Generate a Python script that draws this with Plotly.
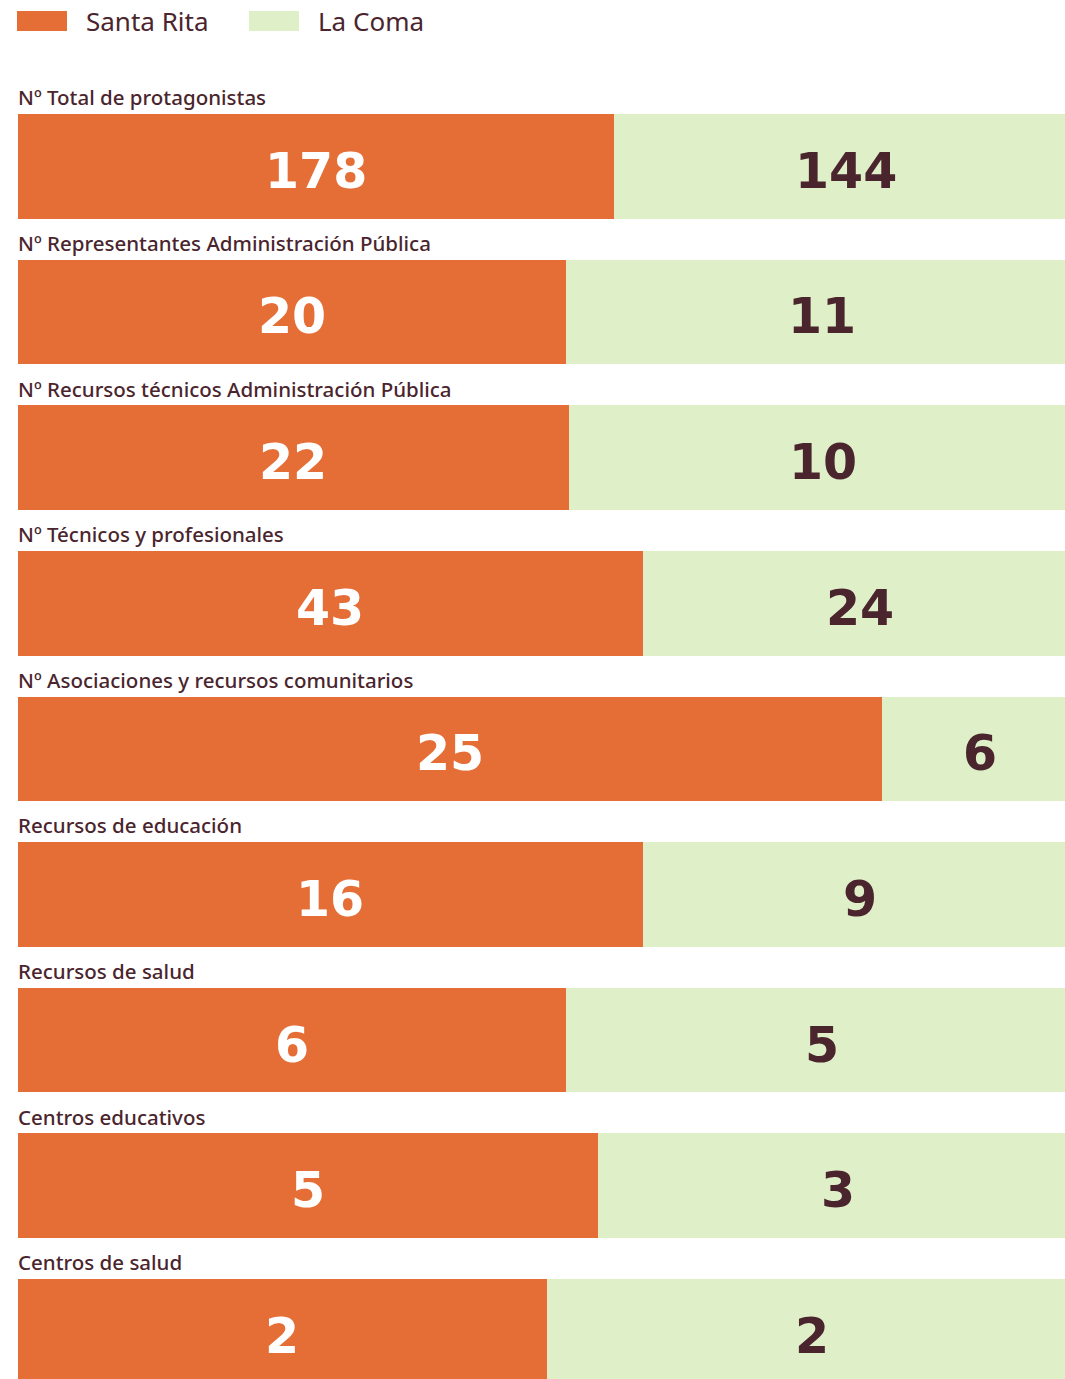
import plotly.graph_objects as go

# ---------------- data ----------------
categories = [
    "Nº Total de protagonistas",
    "Nº Representantes Administración Pública",
    "Nº Recursos técnicos Administración Pública",
    "Nº Técnicos y profesionales",
    "Nº Asociaciones y recursos comunitarios",
    "Recursos de educación",
    "Recursos de salud",
    "Centros educativos",
    "Centros de salud",
]
series_names = ["Santa Rita", "La Coma"]
santa_rita_values = [178, 20, 22, 43, 25, 16, 6, 5, 2]
la_coma_values = [144, 11, 10, 24, 6, 9, 5, 3, 2]
# bar shares (%) as drawn in the reference
santa_rita_share = [56.3, 51.75, 52.0, 59.0, 81.6, 59.0, 51.75, 54.8, 49.95]
la_coma_share = [100 - s for s in santa_rita_share]

# ---------------- style ----------------
ORANGE = "#E56E37"
GREEN = "#DFF0C9"
DARK = "#4A252D"
W, H = 1065, 1379
ML = 18
VISIBLE = 1047 / 1059  # right part of bars falls outside the page
LABEL_FONT = "DejaVu Sans"
LABEL_SIZE = 49

fig = go.Figure()
for name, share, col in [(series_names[0], santa_rita_share, ORANGE),
                         (series_names[1], la_coma_share, GREEN)]:
    fig.add_trace(go.Bar(
        y=categories, x=share, orientation="h", name=name,
        marker=dict(color=col, line=dict(width=0)), width=0.719,
        showlegend=False, hoverinfo="skip",
    ))

# value labels centred in each segment
for c, s, l, vs, vl in zip(categories, santa_rita_share, la_coma_share,
                           santa_rita_values, la_coma_values):
    fig.add_annotation(x=s / 2, y=c, xref="x", yref="y", text=str(vs),
                       showarrow=False, yshift=-5,
                       font=dict(family=LABEL_FONT, size=LABEL_SIZE,
                                 color="white", weight="bold"))
    fig.add_annotation(x=s + l / 2, y=c, xref="x", yref="y", text=str(vl),
                       showarrow=False, yshift=-5,
                       font=dict(family=LABEL_FONT, size=LABEL_SIZE,
                                 color=DARK, weight="bold"))

# row titles
for c in categories:
    fig.add_annotation(
        x=0, xref="paper", xanchor="left", y=c, yref="y", yanchor="middle",
        yshift=69, xshift=-2, text=c, showarrow=False,
        font=dict(family="Noto Sans", size=20.5, color=DARK, weight=500),
    )

# custom legend
def px_x(p):
    return (p - ML) / (W - ML)

def px_y(p):
    return 1 - p / H

for i, (name, col) in enumerate(zip(series_names, [ORANGE, GREEN])):
    x0 = 17 + i * 232
    fig.add_shape(type="rect", xref="paper", yref="paper",
                  x0=px_x(x0), x1=px_x(x0 + 50), y0=px_y(31), y1=px_y(11),
                  fillcolor=col, line=dict(width=0), layer="above")
    fig.add_annotation(x=px_x(x0 + 67), xref="paper", xanchor="left",
                       y=px_y(21), yref="paper", yanchor="middle",
                       text=name, showarrow=False,
                       font=dict(family="Noto Sans", size=26, color=DARK))

pitch = (1331.35 - 166.35) / 8
fig.update_layout(
    width=W, height=H, barmode="stack", bargap=0,
    margin=dict(l=ML, r=0, t=0, b=0),
    paper_bgcolor="white", plot_bgcolor="white",
    xaxis=dict(range=[0, 100 * VISIBLE], visible=False, fixedrange=True),
    yaxis=dict(type="category", categoryorder="array", categoryarray=categories,
               range=[(H - 166.35) / pitch, -166.35 / pitch],
               visible=False, fixedrange=True),
)

fig.write_html("out.html")
